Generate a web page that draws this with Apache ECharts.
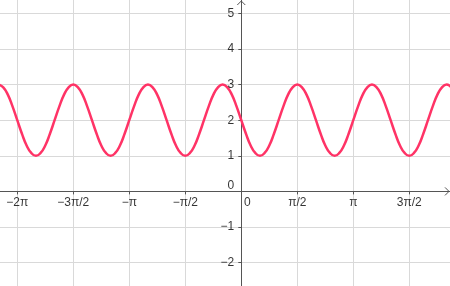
<!DOCTYPE html>
<html><head><meta charset="utf-8">
<script src="https://cdn.jsdelivr.net/npm/echarts@6/dist/echarts.min.js"></script>
<style>html,body{margin:0;padding:0;background:#fff}#c{width:450px;height:286px}</style>
</head><body><div id="c"></div>
<script>
// x positions in units of π/24
const xUnits = [];
for (let k = -52; k <= 45; k++) xUnits.push(k);
// curve values (one row per period)
const yValues = [
  3,2.92,2.71,2.38,2,1.62,1.29,1.08,1,1.08,1.29,1.62,2,2.38,2.71,2.92,
  3,2.92,2.71,2.38,2,1.62,1.29,1.08,1,1.08,1.29,1.62,2,2.38,2.71,2.92,
  3,2.92,2.71,2.38,2,1.62,1.29,1.08,1,1.08,1.29,1.62,2,2.38,2.71,2.92,
  3,2.92,2.71,2.38,2,1.62,1.29,1.08,1,1.08,1.29,1.62,2,2.38,2.71,2.92,
  3,2.92,2.71,2.38,2,1.62,1.29,1.08,1,1.08,1.29,1.62,2,2.38,2.71,2.92,
  3,2.92,2.71,2.38,2,1.62,1.29,1.08,1,1.08,1.29,1.62,2,2.38,2.71,2.92,
  3,2.92];
const xTickValues = [-48,-36,-24,-12,0,12,24,36];
const xTickLabels = ['−2π','−3π/2','−π','−π/2','0','π/2','π','3π/2'];
const yTickValues = [-2,-1,0,1,2,3,4,5];
const yTickLabels = ['−2','−1','0','1','2','3','4','5'];
const xRange = [-51.7, 44.72];
const yRange = [-2.657, 5.376];

const AXIS = '#555';
const GRID = '#d9d9d9';
const FONT = {fontSize:12, fontFamily:'Liberation Sans, Arial, sans-serif', color:'#000'};

function axisCfg(range, ticks){
  return {
    type:'value', min:range[0], max:range[1],
    axisLine:{onZero:true, lineStyle:{color:AXIS, width:1}},
    axisTick:{show:true, length:3, customValues:ticks, lineStyle:{color:AXIS}},
    splitLine:{show:true, lineStyle:{color:GRID, width:1}},
    axisLabel:{show:false, customValues:ticks}
  };
}

const chart = echarts.init(document.getElementById('c'), null, {renderer:'canvas'});
chart.setOption({
  animation:false,
  backgroundColor:'#fff',
  grid:{left:0, right:0, top:0, bottom:0, containLabel:false, outerBoundsMode:'none'},
  xAxis:axisCfg(xRange, xTickValues),
  yAxis:axisCfg(yRange, yTickValues),
  series:[{
    type:'line', smooth:true, showSymbol:false,
    data:xUnits.map((x,i)=>[x,yValues[i]]),
    lineStyle:{color:'#ff3366', width:2.5},
    itemStyle:{color:'#ff3366'}
  },{
    // x tick labels
    type:'scatter', silent:true, symbolSize:0, clip:false, z:5,
    data:xTickValues.map((v,i)=>({value:[v,0],
      label:Object.assign({show:true, formatter:xTickLabels[i], position:'bottom', distance:5, align:'center'}, FONT,
        v===0 ? {offset:[6,0]} : {})}))
  },{
    // y tick labels
    type:'scatter', silent:true, symbolSize:0, clip:false, z:5,
    data:yTickValues.map((v,i)=>({value:[0,v],
      label:Object.assign({show:true, formatter:yTickLabels[i], position:'left', distance:7, verticalAlign:'middle'}, FONT,
        v===0 ? {offset:[0,-6]} : {})}))
  }]
});
const o = chart.convertToPixel({gridIndex:0},[0,0]);
const W = 450;
chart.setOption({graphic:[
  {type:'polyline', shape:{points:[[W-5,o[1]-4],[W-1,o[1]],[W-5,o[1]+4]]}, style:{stroke:AXIS, lineWidth:1, fill:null}},
  {type:'polyline', shape:{points:[[o[0]-4,5],[o[0],1],[o[0]+4,5]]}, style:{stroke:AXIS, lineWidth:1, fill:null}}
]});
</script></body></html>
